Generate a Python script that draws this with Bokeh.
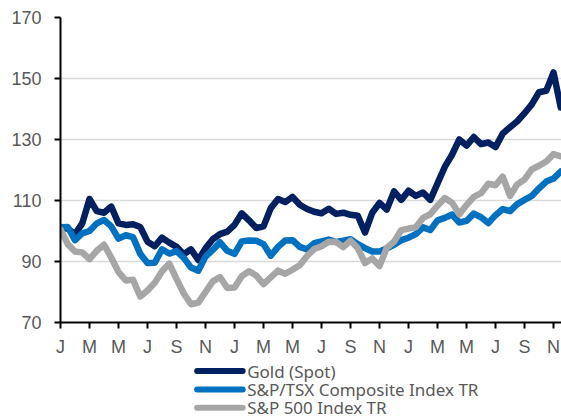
from bokeh.plotting import figure
from bokeh.layouts import column
from bokeh.models import FixedTicker, Range1d
from bokeh.core.properties import value
from bokeh.embed import file_html
from bokeh.resources import INLINE

# x positions: months since January of the first year (half-month steps)
months = [i * 0.5 for i in range(70)]

gold = [101, 100.8, 99, 102.5, 110.5, 106.5, 106, 108, 102.5, 102,
        102.2, 101.3, 96.5, 95, 97.8, 96.2, 94.8, 92.4, 94, 90.5,
        94.3, 97.3, 99, 99.8, 102, 105.8, 103.5, 101, 101.5, 107.5,
        110.5, 109.5, 111.2, 108.6, 107.2, 106.3, 105.8, 107.3, 105.6, 106,
        105.3, 105, 99.5, 106, 109.2, 107, 113, 110.2, 113.2, 111.5,
        112.6, 110.2, 115.6, 121, 125, 130, 128, 130.8, 128.5, 129,
        127.5, 132, 134, 136, 138.6, 141.5, 145.5, 146, 152, 140.5]

tsx = [101.2, 101.3, 97, 99.2, 100, 102.5, 103.6, 101.5, 97.5, 98.6,
       98, 92.5, 89.5, 89.6, 94, 92.6, 93.4, 91.2, 88, 87,
       91.6, 93.8, 96.3, 93.5, 92.5, 96.6, 96.9, 96.8, 95.7, 91.9,
       94.8, 96.9, 97, 94.8, 94, 96, 96.6, 97.2, 96.4, 96.8,
       97.3, 95.7, 94.4, 93.3, 93.3, 94.3, 95.5, 97, 97.8, 99,
       101.2, 100.3, 103.5, 104.3, 105.4, 102.8, 103.3, 105.7, 104.5, 102.6,
       105.2, 107.2, 106.5, 108.8, 110.2, 111.5, 114, 116.2, 117.2, 119.5]

spx = [100.5, 95.7, 93.3, 93, 90.8, 93.5, 95.5, 91.3, 86.5, 83.8,
       84, 78.5, 80.5, 83, 86.8, 89.3, 84.3, 79.5, 76, 76.5,
       80, 83.5, 84.9, 81.3, 81.5, 85.2, 86.8, 85.4, 82.6, 84.8,
       87, 86, 87.3, 88.8, 91.8, 94.1, 95, 96.5, 96.4, 94.7,
       96.8, 94.4, 89.5, 91, 88.5, 94.5, 96.5, 100.3, 100.8, 101.2,
       104.3, 105.5, 108.3, 110.8, 109.3, 105.5, 108.5, 111.2, 112.4, 115.5,
       115, 117.8, 111.5, 115.3, 116.9, 120.2, 121.4, 122.8, 125.2, 124.5]

series_names = ["Gold (Spot)", "S&P/TSX Composite Index TR", "S&P 500 Index TR"]
series_colors = ["#002060", "#0070C0", "#A6A6A6"]

tick_months = list(range(0, 35, 2))
tick_labels = ["J", "M", "M", "J", "S", "N"] * 3
y_ticks = [70, 90, 110, 130, 150, 170]

LINE_W = 6.5

# ---------------- main chart ----------------
p = figure(frame_width=501, frame_height=305, output_backend="svg", toolbar_location=None,
           x_range=Range1d(0, 34.55), y_range=Range1d(70, 170))
p.min_border_left = 60
p.min_border_right = 0
p.min_border_top = 17
p.min_border_bottom = 32
p.outline_line_color = None
p.background_fill_color = "white"
p.border_fill_color = "white"

for vals, col in zip([gold, tsx, spx], series_colors):
    p.line(months, vals, line_color=col, line_width=LINE_W,
           line_join="round", line_cap="round")

p.xaxis.ticker = FixedTicker(ticks=tick_months)
p.xaxis.major_label_overrides = {m: l for m, l in zip(tick_months, tick_labels)}
p.yaxis.ticker = FixedTicker(ticks=y_ticks)
for ax in [p.xaxis[0], p.yaxis[0]]:
    ax.axis_line_color = "black"
    ax.axis_line_width = 2
    ax.major_tick_line_color = "black"
    ax.major_tick_line_width = 2
    ax.major_tick_in = 0
    ax.major_tick_out = 6
    ax.minor_tick_line_color = None
    ax.major_label_text_color = "#595959"
    ax.major_label_text_font = "Liberation Sans"
    ax.major_label_text_font_size = "18px"
p.yaxis.major_label_standoff = 13
p.xaxis.major_label_standoff = 8

p.xgrid.grid_line_color = None
p.ygrid.grid_line_color = "#D9D9D9"
p.ygrid.grid_line_width = 1.5

# ---------------- legend strip ----------------
leg = figure(width=561, height=60, output_backend="svg", toolbar_location=None,
             x_range=Range1d(0, 561), y_range=Range1d(0, 60),
             min_border=0, x_axis_type=None, y_axis_type=None)
leg.outline_line_color = None
leg.xgrid.grid_line_color = None
leg.ygrid.grid_line_color = None
leg.border_fill_color = "white"

row_y = [48.5, 30.0, 11.8]
for name, col, yy in zip(series_names, series_colors, row_y):
    leg.line([153, 204], [yy, yy], line_color=col, line_width=6, line_cap="round")
    leg.text([209], [yy], text=[name], text_baseline="middle", text_align="left",
             text_font=value("Noto Sans"), text_font_size="17px", text_color="#595959")

layout = column(p, leg, spacing=0)
open("out.html", "w").write(file_html(layout, INLINE))
